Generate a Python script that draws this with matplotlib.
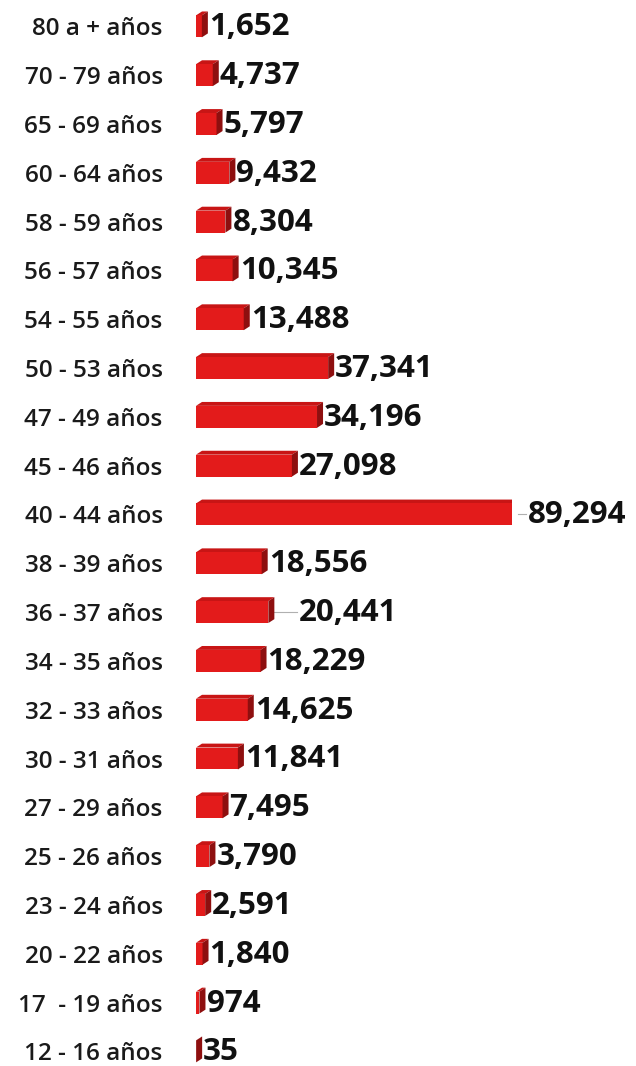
import matplotlib.pyplot as plt


categories = ["12 - 16 años", "17  - 19 años", "20 - 22 años", "23 - 24 años",
              "25 - 26 años", "27 - 29 años", "30 - 31 años", "32 - 33 años",
              "34 - 35 años", "36 - 37 años", "38 - 39 años", "40 - 44 años",
              "45 - 46 años", "47 - 49 años", "50 - 53 años", "54 - 55 años",
              "56 - 57 años", "58 - 59 años", "60 - 64 años", "65 - 69 años",
              "70 - 79 años", "80 a + años"]
values = [35, 974, 1840, 2591, 3790, 7495, 11841, 14625, 18229, 20441, 18556,
          89294, 27098, 34196, 37341, 13488, 10345, 8304, 9432, 5797, 4737, 1652]
value_labels = ["35", "974", "1,840", "2,591", "3,790", "7,495", "11,841",
                "14,625", "18,229", "20,441", "18,556", "89,294", "27,098",
                "34,196", "37,341", "13,488", "10,345", "8,304", "9,432",
                "5,797", "4,737", "1,652"]


def draw_bars_3d(values, height=0.45, dx=1700, dy=0.08):
    # front face plus top and side faces to fake the 3D look
    plt.barh(range(len(values)), values, height=height, color="#e31b1b",
             edgecolor="none", zorder=3)
    for i, v in enumerate(values):
        top = i + height / 2
        bottom = i - height / 2
        plt.fill([0, v, v + dx, dx], [top, top, top + dy, top + dy],
                 color="#c81515", lw=0, zorder=2)
        plt.fill([v, v + dx, v + dx, v], [bottom, bottom + dy, top + dy, top],
                 color="#8e0f0f", lw=0, zorder=4)


def main():
    plt.rcParams['font.family'] = ['Open Sans', 'DejaVu Sans']
    fig = plt.figure(figsize=(6.36, 10.66), dpi=100)
    ax = fig.add_axes([196 / 636, 0, 316 / 636, 1])

    draw_bars_3d(values)

    # labels at the end of each bar, two of them pushed out with a leader line
    shifted = {"20,441": 6500, "89,294": 2500}
    for i, (v, lab) in enumerate(zip(values, value_labels)):
        x = v + 1700 + 300
        if lab in shifted:
            plt.plot([v + 1700, x + shifted[lab] - 500], [i, i],
                     color="#b0b0b0", lw=0.8, zorder=1, clip_on=False)
            x += shifted[lab]
        plt.text(x, i - 0.02, lab, va="center", ha="left", fontsize=22.5,
                 fontweight="bold", color="#111111")

    plt.yticks(range(len(categories)), categories,
               fontsize=17.5, fontweight="semibold", color="#1a1a1a")
    ax.tick_params(axis="y", length=0, pad=24)
    plt.xticks([])
    plt.xlim(0, 89294)
    plt.ylim(-0.3, 21.54)
    for s in ax.spines.values():
        s.set_visible(False)

    plt.savefig("out.png", dpi=100)


if __name__ == "__main__":
    main()
